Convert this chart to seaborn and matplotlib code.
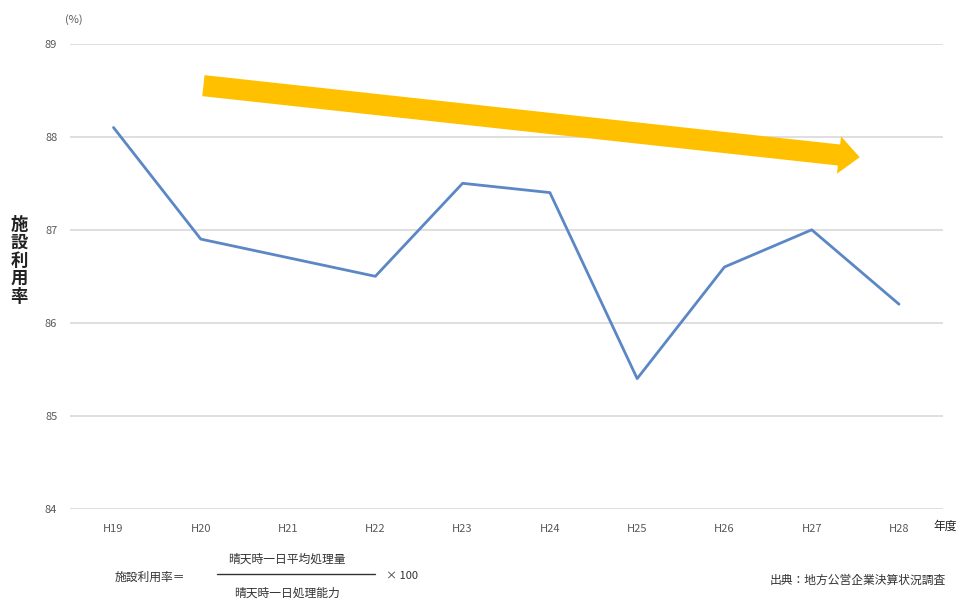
import matplotlib
matplotlib.use("Agg")
import matplotlib.pyplot as plt
import seaborn as sns
import pandas as pd

years = ["H19", "H20", "H21", "H22", "H23", "H24", "H25", "H26", "H27", "H28"]
utilization = [88.1, 86.9, 86.7, 86.5, 87.5, 87.4, 85.4, 86.6, 87.0, 86.2]
y_ticks = [84, 85, 86, 87, 88, 89]

sns.set_theme(style="white")
plt.rcParams["font.family"] = ["Noto Sans CJK JP", "DejaVu Sans"]

df = pd.DataFrame({"year": years, "rate": utilization})

fig = plt.figure(figsize=(9.57, 6.0), dpi=100)
ax = fig.add_axes([0.073, 0.152, 0.912, 0.775])

sns.lineplot(data=df, x="year", y="rate", ax=ax, color="#5b87c5",
             linewidth=2.0, sort=False)

ax.set_xlim(-0.5, len(years) - 0.5)
ax.set_ylim(y_ticks[0], y_ticks[-1])
ax.set_yticks(y_ticks)
ax.set_yticklabels([str(t) for t in y_ticks])
ax.yaxis.grid(True, color="#d9d9d9", linewidth=1.2)
ax.set_axisbelow(True)
for s in ax.spines.values():
    s.set_visible(False)
ax.tick_params(axis="both", length=0, labelsize=8, labelcolor="#595959")
ax.tick_params(axis="x", pad=11)
ax.tick_params(axis="y", pad=9)
ax.set_xlabel("")
ax.set_ylabel("")

# downward trend arrow
ax.annotate("", xy=(8.55, 87.78), xytext=(1.03, 88.55),
            arrowprops=dict(arrowstyle="simple,head_width=1.35,head_length=0.75,tail_width=0.76",
                            color="#ffc000", lw=0, mutation_scale=20,
                            shrinkA=0, shrinkB=0))

fig.text(0.068, 0.968, "(%)", fontsize=8, color="#595959", ha="left", va="center")
fig.text(0.02, 0.565, "施\n設\n利\n用\n率", fontsize=12.5, color="#222222",
         ha="center", va="center", linespacing=1.0, fontweight="bold")
fig.text(0.988, 0.122, "年度", fontsize=8.5, color="#222222", ha="center", va="center")

# formula
fig.text(0.12, 0.037, "施設利用率＝", fontsize=8.5, color="#333333", ha="left", va="center")
fig.text(0.3, 0.068, "晴天時一日平均処理量", fontsize=8.5, color="#333333", ha="center", va="center")
fig.add_artist(plt.Line2D([0.227, 0.392], [0.043, 0.043], transform=fig.transFigure,
                          color="#333333", linewidth=1.0))
fig.text(0.3, 0.012, "晴天時一日処理能力", fontsize=8.5, color="#333333", ha="center", va="center")
fig.text(0.403, 0.040, "× 100", fontsize=8, color="#333333", ha="left", va="center")

fig.text(0.988, 0.032, "出典：地方公営企業決算状況調査", fontsize=8.5, color="#333333",
         ha="right", va="center")

fig.savefig("out.png", dpi=100, facecolor="white")
